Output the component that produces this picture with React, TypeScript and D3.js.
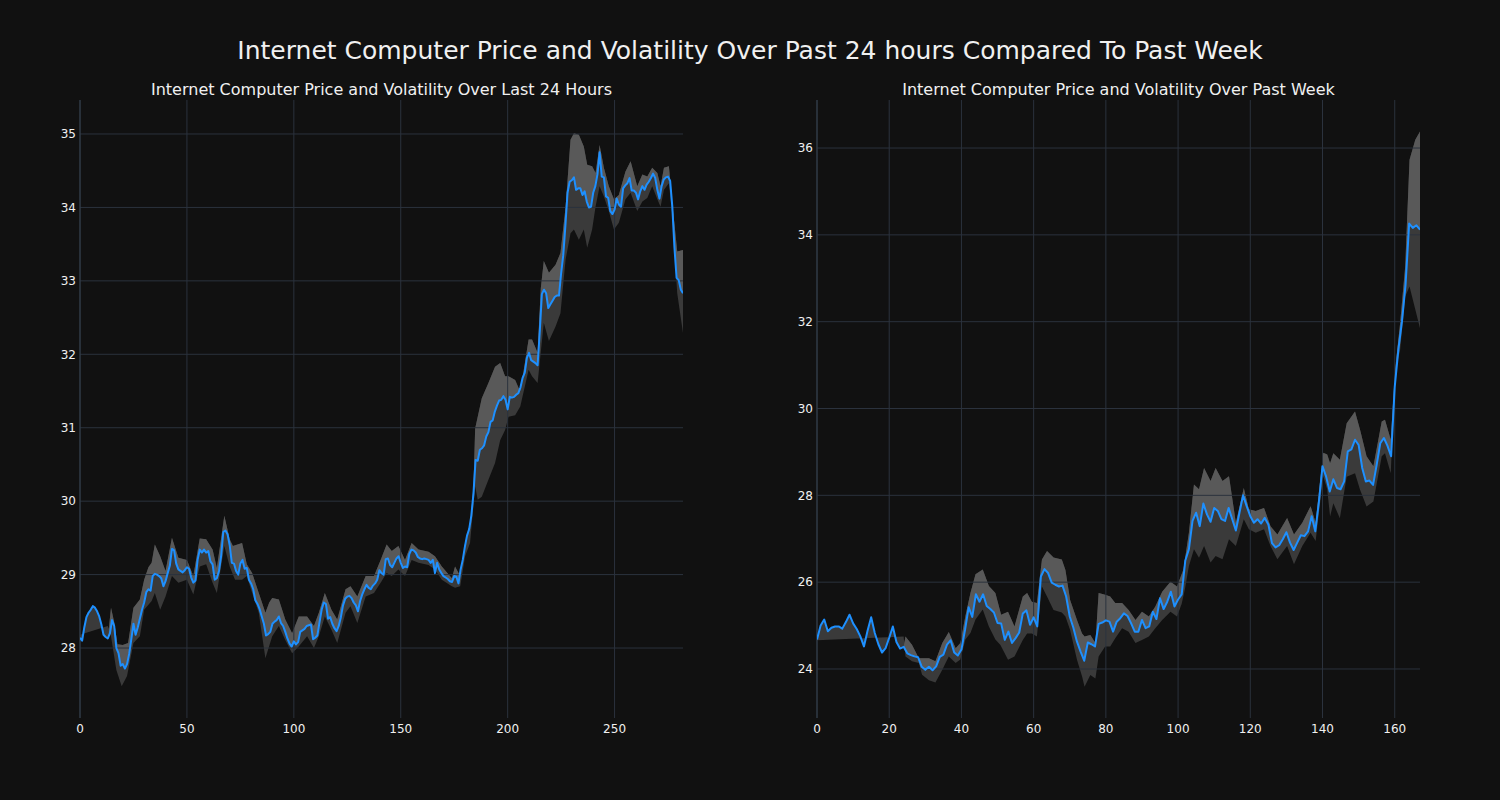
import React from "react";
import * as d3 from "d3";

// ---------- DATA ----------
const mainTitle = "Internet Computer Price and Volatility Over Past 24 hours Compared To Past Week";
const leftTitle = "Internet Computer Price and Volatility Over Last 24 Hours";
const rightTitle = "Internet Computer Price and Volatility Over Past Week";

const leftXTicks = [0, 50, 100, 150, 200, 250];
const leftYTicks = [28, 29, 30, 31, 32, 33, 34, 35];
const rightXTicks = [0, 20, 40, 60, 80, 100, 120, 140, 160];
const rightYTicks = [24, 26, 28, 30, 32, 34, 36];

// 24h price (index 0..282)
const leftPrice = [
  28.14, 28.1, 28.28, 28.42, 28.48, 28.52, 28.57, 28.55, 28.5, 28.43,
  28.32, 28.18, 28.15, 28.13, 28.2, 28.38, 28.3, 28.0, 27.93, 27.76,
  27.78, 27.72, 27.78, 27.92, 28.12, 28.33, 28.18, 28.28, 28.4, 28.52,
  28.62, 28.76, 28.8, 28.78, 28.98, 29.01, 29.0, 28.98, 28.95, 28.84,
  28.91, 29.02, 29.12, 29.35, 29.33, 29.15, 29.07, 29.05, 29.03, 29.06,
  29.1, 29.08, 28.96, 28.89, 28.92, 29.2, 29.34, 29.3, 29.34, 29.3,
  29.32, 29.18, 29.14, 28.93, 28.95, 29.05, 29.25, 29.58, 29.6, 29.55,
  29.4, 29.16, 29.15, 29.05, 29.0, 29.15, 29.2, 29.08, 29.09, 28.93,
  28.88, 28.8, 28.65, 28.6, 28.53, 28.43, 28.33, 28.17, 28.19, 28.22,
  28.33, 28.36, 28.38, 28.43, 28.34, 28.3, 28.22, 28.13, 28.06, 28.02,
  28.09, 28.05, 28.08, 28.22, 28.24, 28.26, 28.3, 28.31, 28.32, 28.12,
  28.14, 28.17, 28.35, 28.52, 28.62, 28.6, 28.4, 28.42, 28.33, 28.27,
  28.23, 28.3, 28.42, 28.58, 28.67, 28.7, 28.71, 28.68, 28.62, 28.58,
  28.5, 28.64, 28.73, 28.8, 28.86, 28.82, 28.8, 28.85, 28.88, 28.93,
  29.06, 29.02, 29.0, 29.21, 29.22, 29.13, 29.1, 29.16, 29.22, 29.25,
  29.16, 29.09, 29.11, 29.1, 29.28, 29.34, 29.33, 29.3, 29.24, 29.22,
  29.21, 29.22, 29.21, 29.2, 29.16, 29.2, 29.02, 29.16, 29.07, 29.02,
  28.98, 28.96, 28.94, 28.91, 28.9, 28.98, 28.97, 28.88, 29.07, 29.2,
  29.38, 29.53, 29.62, 29.8, 30.1, 30.56, 30.55, 30.7, 30.72, 30.76,
  30.88, 30.94, 31.08, 31.1, 31.22, 31.3, 31.37, 31.38, 31.43, 31.38,
  31.25, 31.42, 31.41, 31.42, 31.45, 31.47, 31.55, 31.68, 31.75, 31.95,
  32.02, 31.92, 31.9, 31.88, 31.85, 32.3, 32.82, 32.88, 32.83, 32.63,
  32.68, 32.73, 32.78, 32.8, 32.8, 33.1, 33.35, 33.75, 34.2, 34.35,
  34.37, 34.41, 34.24, 34.26, 34.26, 34.17, 34.22, 34.08, 34.0, 34.01,
  34.2, 34.29, 34.45, 34.75, 34.42, 34.41, 34.15, 34.13, 33.95, 33.91,
  33.97, 34.12, 34.04, 34.01, 34.26, 34.3, 34.33, 34.4, 34.23, 34.23,
  34.2, 34.11, 34.22, 34.29, 34.24, 34.31, 34.35, 34.4, 34.46, 34.4,
  34.24, 34.12, 34.29, 34.38, 34.41, 34.42, 34.36, 34.01, 33.45, 33.04,
  33.01, 32.88, 32.83,
];

// 24h volatility band edges [x, value]; the first 14 upper points follow the price
const leftUpperStart = 14;
const leftUpper: [number, number][] = [
  [14.5, 28.55], [16, 28.35], [17.5, 28.05], [20, 28.04], [22.5, 28.07], [25, 28.55],
  [28, 28.66], [30, 28.93], [32, 29.1], [33.5, 29.16], [35, 29.41], [37.5, 29.25],
  [40, 29.05], [43, 29.5], [46, 29.23], [50, 29.2], [53, 28.98], [56, 29.49],
  [59, 29.48], [62, 29.34], [64, 29.09], [67.5, 29.8], [70, 29.48], [71.5, 29.39],
  [75.8, 29.43], [78, 29.14], [80.5, 29.02], [83.6, 28.75], [86.7, 28.48], [88.5, 28.62],
  [89.9, 28.68], [93, 28.66], [96, 28.39], [99.2, 28.2], [102.3, 28.43], [106.2, 28.43],
  [109.4, 28.3], [111.7, 28.48], [114.5, 28.75], [117.6, 28.52], [120.3, 28.39], [124.2, 28.8],
  [126.5, 28.84], [129.7, 28.7], [133.6, 28.98], [137.5, 28.98], [140.6, 29.2], [143.4, 29.41],
  [145.8, 29.32], [148.9, 29.39], [152, 29.2], [155.1, 29.43], [158.3, 29.34], [163, 29.31],
  [166, 29.25], [169.2, 29.11], [173.9, 28.95], [175.4, 29.11], [177.8, 28.98], [180.1, 29.43],
  [182.4, 29.66], [184, 30.2], [184.8, 30.99], [187.9, 31.4], [191, 31.61], [194.1, 31.83],
  [196.5, 31.88], [198.8, 31.7], [200.4, 31.7], [203.5, 31.65], [205.9, 31.49], [209.8, 32.2],
  [211.4, 32.2], [214, 32.02], [215.5, 32.9], [216.9, 33.27], [219.3, 33.11], [222.4, 33.22],
  [224.7, 33.38], [227.1, 34.01], [229.4, 34.92], [231, 35.01], [233.3, 34.99], [235.6, 34.83],
  [237.2, 34.58], [239.5, 34.56], [241.1, 34.47], [243, 34.85], [245, 34.54], [247.3, 34.29],
  [249.7, 34.11], [252, 34.17], [255.1, 34.49], [257.5, 34.63], [260.6, 34.29], [263, 34.45],
  [265.3, 34.42], [267.6, 34.54], [270, 34.47], [271.5, 34.29], [273.1, 34.54], [275.4, 34.56],
  [277, 34.06], [279.3, 33.4], [282, 33.42],
];
const leftLower: [number, number][] = [
  [0, 28.18], [13, 28.3], [14.5, 28.16], [17, 27.7], [19.5, 27.48], [22, 27.62],
  [25, 28.07], [28, 28.16], [30, 28.52], [33.5, 28.64], [35, 28.75], [37.5, 28.52],
  [40, 28.7], [43, 28.98], [46, 28.89], [50, 28.93], [53, 28.73], [56, 29.11],
  [59, 29.14], [62, 28.89], [64, 28.75], [67.5, 29.39], [70, 29.11], [72.5, 28.93],
  [75.8, 28.93], [78, 28.98], [80.5, 28.75], [83.6, 28.48], [86.7, 27.86], [89.9, 28.16],
  [93, 28.3], [96, 28.11], [99.2, 27.93], [102.3, 28.02], [106.2, 28.16], [109.4, 28.0],
  [111.7, 28.16], [114.5, 28.43], [117.6, 28.25], [120.3, 28.07], [124.2, 28.48], [126.5, 28.57],
  [129.7, 28.34], [133.6, 28.7], [137.5, 28.75], [140.6, 28.89], [143.4, 29.02], [145.8, 28.98],
  [148.9, 29.07], [152, 28.98], [155.1, 29.2], [158.3, 29.16], [163, 29.13], [166, 29.07],
  [169.2, 28.93], [173.9, 28.84], [175.4, 28.82], [177.8, 28.84], [180.1, 29.25], [182.4, 29.43],
  [184.8, 30.2], [186, 30.02], [187.9, 30.06], [191, 30.29], [194.1, 30.52], [196.5, 30.83],
  [198.8, 30.97], [200.4, 31.15], [203.5, 31.17], [205.9, 31.29], [209.8, 31.79], [211.4, 31.7],
  [214, 31.61], [216.9, 32.43], [219.3, 32.18], [222.4, 32.38], [224.7, 32.56], [227.1, 33.29],
  [229.4, 33.65], [231, 33.7], [233.3, 33.56], [235.6, 33.7], [237.2, 33.45], [239.5, 33.7],
  [241.1, 34.01], [243, 34.29], [245, 34.15], [247.3, 33.95], [249.7, 33.7], [252, 33.79],
  [255.1, 34.11], [257.5, 34.2], [260.6, 33.95], [263, 34.08], [265.3, 34.13], [267.6, 34.29],
  [270, 34.11], [271.5, 34.01], [273.1, 34.24], [275.4, 34.33], [277, 33.88], [279.3, 32.83],
  [282, 32.29],
];

// week price (index 0..167)
const rightPrice = [
  24.68, 25.0, 25.14, 24.87, 24.95, 24.98, 24.98, 24.93, 25.08, 25.25,
  25.05, 24.92, 24.75, 24.52, 24.88, 25.19, 24.83, 24.57, 24.38, 24.48,
  24.72, 24.98, 24.62, 24.47, 24.51, 24.36, 24.32, 24.29, 24.27, 24.05,
  23.98, 24.05, 23.97, 24.06, 24.28, 24.33, 24.56, 24.66, 24.38, 24.31,
  24.45, 24.9, 25.42, 25.2, 25.72, 25.55, 25.72, 25.45, 25.38, 25.3,
  25.06, 25.05, 24.67, 24.86, 24.6, 24.71, 24.84, 25.28, 25.35, 25.02,
  25.19, 24.98, 26.13, 26.3, 26.21, 25.99, 25.94, 25.9, 25.92, 25.67,
  25.21, 24.95, 24.63, 24.4, 24.19, 24.61, 24.57, 24.52, 25.04, 25.07,
  25.12, 25.09, 24.86, 25.09, 25.17, 25.28, 25.22, 25.05, 24.86, 24.86,
  25.13, 24.94, 24.98, 25.32, 25.15, 25.63, 25.38, 25.55, 25.78, 25.44,
  25.6, 25.72, 26.5, 26.76, 27.41, 27.6, 27.29, 27.81, 27.56, 27.39,
  27.71, 27.64, 27.45, 27.41, 27.71, 27.45, 27.19, 27.6, 28.0, 27.75,
  27.52, 27.37, 27.45, 27.35, 27.48, 27.33, 26.9, 26.8, 26.85, 26.99,
  27.15, 26.91, 26.74, 26.91, 27.08, 27.06, 27.17, 27.52, 27.17, 27.85,
  28.67, 28.43, 28.09, 28.37, 28.17, 28.14, 28.32, 29.01, 29.06, 29.28,
  29.16, 28.63, 28.32, 28.34, 28.24, 28.7, 29.2, 29.32, 29.14, 28.9,
  30.5, 31.35, 32.0, 32.85, 34.26, 34.16, 34.22, 34.12,
];

const rightUpperStart = 25;
const rightUpper: [number, number][] = [
  [24.5, 24.75], [26.3, 24.56], [28.2, 24.25], [31, 24.25], [32.8, 24.18], [34.7, 24.6],
  [36.5, 24.85], [38.4, 24.48], [39.7, 24.6], [41.1, 25.22], [42.5, 25.75], [43.9, 26.18],
  [45.9, 26.29], [47.6, 25.91], [49.4, 25.75], [51, 25.25], [52.9, 25.32], [54.7, 24.98],
  [57, 25.67], [58.2, 25.75], [59.5, 25.55], [60.9, 25.52], [62.3, 26.52], [63.7, 26.72],
  [65.5, 26.57], [67.8, 26.52], [68.8, 26.28], [70.1, 25.59], [72, 25.13], [73.4, 24.82],
  [74.1, 24.75], [75.7, 24.78], [77.1, 24.6], [78, 25.75], [79.8, 25.71], [81.2, 25.67],
  [82.6, 25.52], [84.5, 25.52], [86.3, 25.36], [88.2, 25.13], [90, 25.32], [91.9, 25.21],
  [93.7, 25.44], [95.6, 25.78], [97.9, 26.01], [99.7, 25.9], [101.5, 26.3], [103, 27.14],
  [104.4, 28.25], [105.8, 28.14], [107.2, 28.63], [109, 28.33], [110.4, 28.63], [112.3, 28.33],
  [114.1, 28.44], [116, 27.37], [118.2, 28.17], [119.6, 27.68], [121.5, 27.64], [123.8, 27.71],
  [125.6, 27.29], [127.5, 27.1], [130.2, 27.48], [132.1, 27.1], [134.4, 27.37], [136.7, 27.75],
  [138.1, 27.37], [140.2, 28.98], [141.3, 28.94], [142.1, 28.74], [143, 28.97], [144.8, 28.82],
  [146.7, 29.66], [149, 29.93], [150.4, 29.51], [152.2, 28.9], [154.1, 28.67], [156.4, 29.7],
  [157.3, 29.74], [158.9, 29.28], [160.1, 30.89], [161.5, 31.97], [162.9, 33.27], [164.1, 35.73],
  [165.7, 36.19], [167, 36.38],
];
const rightLower: [number, number][] = [
  [0, 24.66], [24, 24.75], [24.5, 24.29], [26.3, 24.18], [28.2, 24.14], [29.1, 23.87],
  [31, 23.74], [32.8, 23.69], [34.7, 23.98], [36.5, 24.29], [38.4, 24.14], [39.7, 24.22],
  [41.1, 24.68], [42.5, 24.83], [43.9, 25.14], [45.9, 25.37], [47.6, 24.98], [49.4, 24.68],
  [50.8, 24.55], [52.9, 24.21], [54.7, 24.29], [57, 24.67], [58.2, 24.82], [59.5, 24.82],
  [60.9, 24.75], [62.3, 25.9], [63.7, 25.67], [65.5, 25.36], [67.8, 25.3], [68.8, 25.21],
  [70.1, 24.9], [72, 24.21], [73.4, 23.83], [74.1, 23.59], [75.7, 23.86], [77.1, 23.78],
  [78, 24.29], [79.8, 24.52], [81.2, 24.52], [82.6, 24.71], [84.5, 24.94], [86.3, 24.86],
  [88.2, 24.6], [90, 24.67], [91.9, 24.75], [93.7, 24.94], [95.6, 25.13], [97.9, 25.32],
  [99.7, 25.21], [101, 25.5], [101.9, 25.84], [103, 26.37], [104.4, 26.76], [105.8, 26.56],
  [107.2, 26.83], [109, 26.45], [110.4, 26.6], [112.3, 26.53], [114.1, 26.99], [116, 26.83],
  [118.2, 27.45], [119.6, 27.22], [121.5, 27.14], [123.8, 27.22], [125.6, 26.83], [127.5, 26.53],
  [130.2, 26.83], [132.1, 26.41], [134.4, 26.83], [136.7, 27.14], [138.1, 26.95], [140.2, 28.44],
  [141.3, 28.14], [142.1, 27.51], [143, 27.82], [144.8, 27.47], [146.7, 28.43], [149, 28.51],
  [150.4, 28.13], [152.2, 27.74], [154.1, 27.86], [156.4, 28.9], [157.3, 28.97], [158.9, 28.51],
  [160.1, 30.82], [161.5, 31.35], [162.9, 32.58], [164.1, 32.81], [165.7, 32.28], [167, 31.85],
];

// ---------- STYLE ----------
const BG = "#111111";
const GRID = "#2b323d";
const SPINE = "#35404d";
const TEXT = "#f0f0f0";
const LINE = "#1e90ff";
const BAND_DARK = "#3a3a3a";
const BAND_LIGHT = "#595959";
const FONT = "DejaVu Sans, Verdana, sans-serif";

type PanelProps = {
  title: string;
  price: number[];
  upperStart: number;
  upper: [number, number][];
  lower: [number, number][];
  xDomain: [number, number];
  yDomain: [number, number];
  xTicks: number[];
  yTicks: number[];
  left: number;
  right: number;
  top: number;
  bottom: number;
};

function Panel(p: PanelProps) {
  const x = d3.scaleLinear().domain(p.xDomain).range([p.left, p.right]);
  const y = d3.scaleLinear().domain(p.yDomain).range([p.bottom, p.top]);
  const pricePts: [number, number][] = p.price.map((v, i) => [i, v]);
  const upperPts: [number, number][] = [
    ...pricePts.slice(0, p.upperStart),
    ...p.upper,
  ];
  const lineGen = d3
    .line<[number, number]>()
    .x((d) => x(d[0]))
    .y((d) => y(d[1]));
  const fullBand = lineGen([...upperPts, ...p.lower.slice().reverse()]) + "Z";
  const lightBand =
    lineGen([...upperPts, ...pricePts.slice().reverse()]) + "Z";
  const clipId = "clip-" + p.left;
  return (
    <g>
      <defs>
        <clipPath id={clipId}>
          <rect x={p.left} y={p.top} width={p.right - p.left} height={p.bottom - p.top} />
        </clipPath>
      </defs>
      <g clipPath={`url(#${clipId})`}>
        <path d={fullBand} fill={BAND_DARK} stroke="none" />
        <path d={lightBand} fill={BAND_LIGHT} stroke="none" />
      </g>
      {p.xTicks.map((t) => (
        <line key={"gx" + t} x1={x(t)} x2={x(t)} y1={p.top} y2={p.bottom} stroke={GRID} strokeWidth={1} />
      ))}
      {p.yTicks.map((t) => (
        <line key={"gy" + t} x1={p.left} x2={p.right} y1={y(t)} y2={y(t)} stroke={GRID} strokeWidth={1} />
      ))}
      <line x1={p.left} x2={p.left} y1={p.top} y2={p.bottom} stroke={SPINE} strokeWidth={1} />
      <path
        d={lineGen(pricePts) || ""}
        fill="none"
        stroke={LINE}
        strokeWidth={2}
        strokeLinejoin="round"
        clipPath={`url(#${clipId})`}
      />
      {p.xTicks.map((t) => (
        <text key={"tx" + t} x={x(t)} y={p.bottom + 15} fill={TEXT} fontSize={12} fontFamily={FONT} textAnchor="middle">
          {t}
        </text>
      ))}
      {p.yTicks.map((t) => (
        <text key={"ty" + t} x={p.left - 4} y={y(t) + 4.3} fill={TEXT} fontSize={12} fontFamily={FONT} textAnchor="end">
          {t}
        </text>
      ))}
      <text x={(p.left + p.right) / 2} y={p.top - 5} fill={TEXT} fontSize={16} fontFamily={FONT} textAnchor="middle">
        {p.title}
      </text>
    </g>
  );
}

export default function App() {
  return (
    <svg
      width={1500}
      height={800}
      style={{ position: "absolute", left: 0, top: 0, display: "block" }}
    >
      <rect x={0} y={0} width={1500} height={800} fill={BG} />
      <text x={750} y={58.5} fill={TEXT} fontSize={25} fontFamily={FONT} textAnchor="middle">
        {mainTitle}
      </text>
      <Panel
        title={leftTitle}
        price={leftPrice}
        upperStart={leftUpperStart}
        upper={leftUpper}
        lower={leftLower}
        xDomain={[0, 282]}
        yDomain={[27.047, 35.463]}
        xTicks={leftXTicks}
        yTicks={leftYTicks}
        left={80}
        right={683}
        top={100}
        bottom={718}
      />
      <Panel
        title={rightTitle}
        price={rightPrice}
        upperStart={rightUpperStart}
        upper={rightUpper}
        lower={rightLower}
        xDomain={[0, 167]}
        yDomain={[22.871, 37.106]}
        xTicks={rightXTicks}
        yTicks={rightYTicks}
        left={817}
        right={1420}
        top={100}
        bottom={718}
      />
    </svg>
  );
}
